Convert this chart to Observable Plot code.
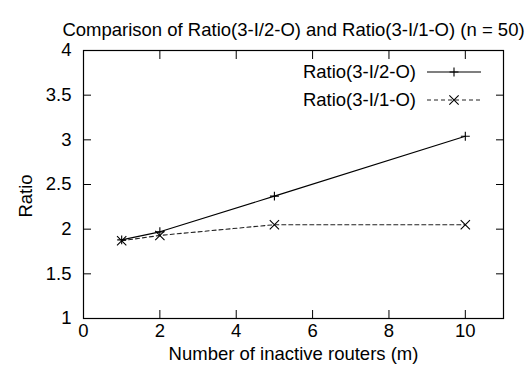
<!DOCTYPE html>
<html>
<head>
<meta charset="utf-8">
<script src="https://cdn.jsdelivr.net/npm/d3@7"></script>
<script src="https://cdn.jsdelivr.net/npm/@observablehq/plot@0.6"></script>
<style>
  html, body { margin: 0; padding: 0; background: #fff; }
  #chart svg { display: block; }
</style>
</head>
<body>
<div id="chart"></div>
<script>
const titleText = "Comparison of Ratio(3-I/2-O) and Ratio(3-I/1-O) (n = 50)";
const xLabel = "Number of inactive routers (m)";
const yLabel = "Ratio";
const seriesNames = ["Ratio(3-I/2-O)", "Ratio(3-I/1-O)"];
const xValues = [1, 2, 5, 10];
const ratio2O = [1.88, 1.97, 2.37, 3.04];
const ratio1O = [1.87, 1.93, 2.05, 2.05];
const xTicks = [0, 2, 4, 6, 8, 10];
const yTicks = [1, 1.5, 2, 2.5, 3, 3.5, 4];
const xDomain = [0, 11];
const yDomain = [1, 4];

const FONT = "'Liberation Sans', Arial, Helvetica, sans-serif";
const FS = 18.5;
const R_PLUS = 3;
const R_TIMES = 4.3;

const data2 = xValues.map((x, i) => ({x, y: ratio2O[i]}));
const data1 = xValues.map((x, i) => ({x, y: ratio1O[i]}));

const chart = Plot.plot({
  width: 527,
  height: 373,
  marginLeft: 83,
  marginRight: 24,
  marginTop: 50,
  marginBottom: 55,
  style: {fontFamily: FONT, fontSize: FS + "px", color: "#000", background: "#fff"},
  x: {domain: xDomain},
  y: {domain: yDomain},
  marks: [
    Plot.frame({stroke: "#000", strokeWidth: 1.2}),
    Plot.axisY(yTicks, {anchor: "left", tickSize: -8, tickPadding: 20, label: null, fontSize: FS, tickFormat: d => String(d)}),
    Plot.axisY(yTicks, {anchor: "right", tickSize: -8, text: null, label: null}),
    Plot.axisX(xTicks, {anchor: "bottom", tickSize: -8, tickPadding: 13, label: null, fontSize: FS, tickFormat: d => String(d)}),
    Plot.axisX(xTicks, {anchor: "top", tickSize: -8, text: null, label: null}),
    Plot.line(data2, {x: "x", y: "y", stroke: "#000", strokeWidth: 1.1}),
    Plot.line(data1, {x: "x", y: "y", stroke: "#222", strokeWidth: 1.1, strokeDasharray: "4,3"}),
    Plot.dot(data2, {x: "x", y: "y", symbol: "plus", r: R_PLUS, stroke: "#000", strokeWidth: 1.1}),
    Plot.dot(data1, {x: "x", y: "y", symbol: "times", r: R_TIMES, stroke: "#000", strokeWidth: 1.1}),
    Plot.text([titleText], {frameAnchor: "top", dy: -28, fontSize: FS, fill: "#000"}),
    Plot.text([xLabel], {frameAnchor: "bottom", dy: 41, fontSize: FS, fill: "#000"})
  ]
});

document.getElementById("chart").appendChild(chart);

const svg = d3.select(chart);
const xr = chart.scale("x").range;
const yr = chart.scale("y").range;
const frameLeft = Math.min(...xr);
const frameRight = Math.max(...xr);
const frameTop = Math.min(...yr);
const frameBottom = Math.max(...yr);

// Y axis label (rotated)
svg.append("text")
  .attr("transform", `translate(${frameLeft - 57},${(frameTop + frameBottom) / 2 + 12}) rotate(-90)`)
  .attr("text-anchor", "middle").attr("dy", "0.35em")
  .style("font-family", FONT).style("font-size", FS + "px").attr("fill", "#000")
  .text(yLabel);

// Legend (gnuplot-style, inside top-right of frame)
const legendItems = [
  {name: seriesNames[0], symbol: d3.symbolPlus, r: R_PLUS, dash: null},
  {name: seriesNames[1], symbol: d3.symbolTimes, r: R_TIMES, dash: "4,3"}
];
const g = svg.append("g").attr("class", "legend");
legendItems.forEach((it, i) => {
  const cy = frameTop + 22 + i * 28;
  const lx1 = frameRight - 76, lx2 = frameRight - 22;
  g.append("text")
    .attr("x", frameRight - 87).attr("y", cy)
    .attr("text-anchor", "end").attr("dy", "0.32em")
    .style("font-family", FONT).style("font-size", FS + "px").attr("fill", "#000")
    .text(it.name);
  g.append("line")
    .attr("x1", lx1).attr("x2", lx2).attr("y1", cy).attr("y2", cy)
    .attr("stroke", it.dash ? "#222" : "#000").attr("stroke-width", 1.1)
    .attr("stroke-dasharray", it.dash);
  g.append("path")
    .attr("d", d3.symbol(it.symbol, it.r * it.r * Math.PI)())
    .attr("transform", `translate(${(lx1 + lx2) / 2},${cy})`)
    .attr("fill", "none").attr("stroke", "#000").attr("stroke-width", 1.1);
});
</script>
</body>
</html>
